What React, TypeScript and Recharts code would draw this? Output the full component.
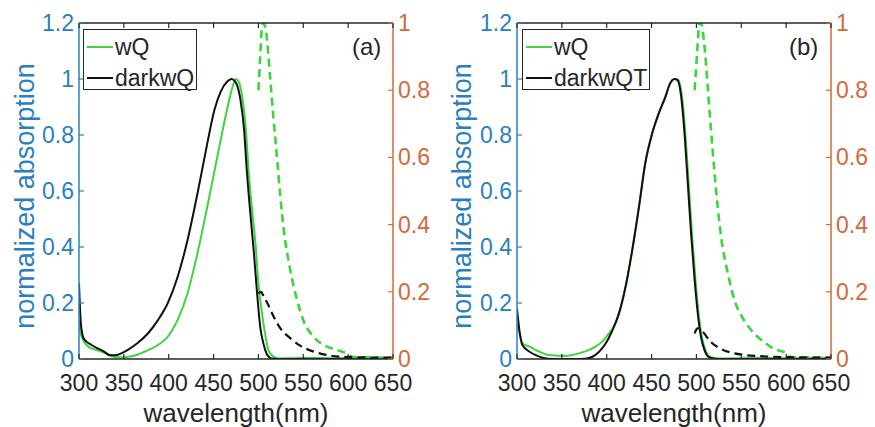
import React from 'react';
import { LineChart, Line, XAxis, YAxis } from 'recharts';

const FONT = '"Liberation Sans", Arial, Helvetica, sans-serif';
const BLUE = '#2a80bf';
const ORANGE = '#d4693a';
const GREEN = '#3ed43e';
const BLACK = '#111111';
const AXIS = '#262626';

// axis ticks
const wavelengthTicks = [300, 350, 400, 450, 500, 550, 600, 650];
const absTicks = [0, 0.2, 0.4, 0.6, 0.8, 1, 1.2];
const emTicks = [0, 0.2, 0.4, 0.6, 0.8, 1];

// panel (a) - absorption (left axis)
const aWqX = [300, 302, 305, 310, 320, 330, 336, 345, 355, 365, 373, 388, 399, 410, 421, 432, 443, 454, 465, 472, 475, 478, 482, 486, 489, 493, 497, 500, 504, 508, 511, 517, 523, 540, 560, 580, 600, 620, 650];
const aWqY = [0.14, 0.09, 0.065, 0.045, 0.032, 0.02, 0.01, 0.006, 0.008, 0.015, 0.026, 0.05, 0.08, 0.14, 0.235, 0.377, 0.544, 0.72, 0.89, 0.98, 1.0, 0.99, 0.935, 0.82, 0.675, 0.53, 0.4, 0.27, 0.163, 0.08, 0.032, 0.008, 0.002, 0.003, 0.004, 0.003, 0.004, 0.003, 0.004];
const aDarkX = [300, 302, 305, 310, 314, 321, 328, 334, 340, 347, 354, 365, 377, 388, 399, 410, 421, 432, 443, 451, 458, 465, 470, 473, 476, 480, 484, 487, 491, 495, 498.5, 502, 506, 510, 515, 530, 650];
const aDarkY = [0.27, 0.13, 0.075, 0.058, 0.05, 0.038, 0.026, 0.014, 0.013, 0.02, 0.032, 0.056, 0.092, 0.139, 0.2, 0.294, 0.425, 0.59, 0.77, 0.89, 0.955, 0.99, 1.0, 0.995, 0.98, 0.925, 0.82, 0.675, 0.52, 0.377, 0.235, 0.115, 0.05, 0.014, 0.002, 0, 0];

// panel (a) - emission (right axis)
const aWqEmX = [500, 502, 504, 506, 509.6, 513, 517, 521, 524.5, 528, 535.5, 543, 550, 561.5, 572.6, 584, 598, 605, 620, 650];
const aWqEmY = [0.8, 0.9, 0.99, 1.0, 0.95, 0.84, 0.71, 0.59, 0.48, 0.39, 0.265, 0.176, 0.116, 0.066, 0.042, 0.03, 0.017, 0.006, 0.005, 0.004];
const aDarkEmX = [500, 503, 506, 510, 517, 524.5, 535.5, 547, 561.5, 576, 591, 610, 650];
const aDarkEmY = [0.195, 0.2, 0.185, 0.166, 0.126, 0.091, 0.062, 0.039, 0.022, 0.012, 0.007, 0.005, 0.004];

// panel (b) - absorption (left axis)
const bWqX = [300, 303, 306, 314, 325, 336, 354, 369, 384, 395, 402.6, 406, 413.7, 421, 428.5, 436, 443, 450.7, 458, 465.5, 470, 476, 480, 484, 488, 491.5, 495, 499, 502.5, 506, 510, 516, 525, 560, 600, 650];
const bWqY = [0.13, 0.09, 0.056, 0.044, 0.026, 0.014, 0.011, 0.02, 0.038, 0.062, 0.092, 0.105, 0.165, 0.258, 0.39, 0.544, 0.7, 0.806, 0.877, 0.937, 0.98, 1.0, 0.995, 0.935, 0.79, 0.62, 0.45, 0.28, 0.16, 0.08, 0.032, 0.006, 0.002, 0.004, 0.003, 0.004];
const bDarkX = [300, 302.6, 306, 314, 321, 328.5, 335, 350, 365, 378, 384, 391.5, 399, 406, 413.7, 421, 428.5, 436, 443, 450.7, 458, 465.5, 470, 475.6, 479, 483, 487, 490.4, 494, 498, 501.5, 505, 509, 514.5, 525, 650];
const bDarkY = [0.18, 0.104, 0.05, 0.026, 0.014, 0.005, 0.001, 0, 0, 0.002, 0.008, 0.026, 0.056, 0.1, 0.163, 0.258, 0.39, 0.544, 0.7, 0.806, 0.877, 0.937, 0.98, 1.0, 0.996, 0.937, 0.794, 0.627, 0.45, 0.282, 0.163, 0.08, 0.032, 0.006, 0, 0];

// panel (b) - emission (right axis)
const bWqEmX = [498, 501, 503.4, 505, 509, 512.6, 516.3, 520, 523.8, 527.5, 535, 542.3, 553, 564.5, 575.6, 586.7, 600, 605, 620, 650];
const bWqEmY = [0.8, 0.92, 1.0, 1.0, 0.93, 0.81, 0.68, 0.56, 0.45, 0.364, 0.255, 0.176, 0.116, 0.076, 0.05, 0.03, 0.017, 0.006, 0.005, 0.004];
const bDarkEmX = [498, 500, 502, 507, 516.3, 527.5, 538.6, 553.4, 568, 583, 610, 650];
const bDarkEmY = [0.076, 0.088, 0.092, 0.081, 0.05, 0.03, 0.019, 0.012, 0.009, 0.007, 0.005, 0.004];

const legendA = ['wQ', 'darkwQ'];
const legendB = ['wQ', 'darkwQT'];

const pts = (xs: number[], ys: number[]) => xs.map((x, i) => ({ x, y: ys[i] }));

function BottomTick({ x, y, payload }: any) {
  return (
    <g>
      <line x1={x} y1={y} x2={x} y2={y - 5} stroke={AXIS} strokeWidth={1.2} />
      <text x={x} y={y + 32} textAnchor="middle" fontSize={23} fill={AXIS} fontFamily={FONT}>
        {payload.value}
      </text>
    </g>
  );
}

function TopTick({ x, y }: any) {
  return <line x1={x} y1={y} x2={x} y2={y + 5} stroke={AXIS} strokeWidth={1.2} />;
}

function LeftTick({ x, y, payload }: any) {
  return (
    <g>
      <line x1={x} y1={y} x2={x + 5} y2={y} stroke={BLUE} strokeWidth={1.2} />
      <text x={x - 5} y={y + 8} textAnchor="end" fontSize={23} fill={BLUE} fontFamily={FONT}>
        {payload.value}
      </text>
    </g>
  );
}

function RightTick({ x, y, payload }: any) {
  return (
    <g>
      <line x1={x} y1={y} x2={x - 5} y2={y} stroke={ORANGE} strokeWidth={1.2} />
      <text x={x + 5} y={y + 8} textAnchor="start" fontSize={23} fill={ORANGE} fontFamily={FONT}>
        {payload.value}
      </text>
    </g>
  );
}

const yTitle = (props: any) => {
  const vb = props.viewBox;
  const cx = vb.x + 25;
  const cy = vb.y + vb.height / 2 + 5;
  return (
    <text x={cx} y={cy} transform={`rotate(-90, ${cx}, ${cy})`} textAnchor="middle" dominantBaseline="central"
      fontSize={27} fill={BLUE} fontFamily={FONT}>
      normalized absorption
    </text>
  );
};

const xTitle = (props: any) => {
  const vb = props.viewBox;
  return (
    <text x={vb.x + vb.width / 2} y={vb.y + 63} textAnchor="middle" fontSize={26} fill={AXIS} fontFamily={FONT}>
      wavelength(nm)
    </text>
  );
};

function LegendBox({ names, left, width }: { names: string[]; left: number; width: number }) {
  const colors = [GREEN, BLACK];
  return (
    <div style={{
      position: 'absolute', left, top: 29, width, height: 61, border: `1.3px solid ${AXIS}`,
      background: '#fff', boxSizing: 'border-box', fontFamily: FONT, fontSize: 23, color: AXIS,
    }}>
      {names.map((n, i) => (
        <div key={n} style={{ position: 'absolute', left: 3, top: 3 + i * 31, height: 28, display: 'flex', alignItems: 'center', whiteSpace: 'nowrap' }}>
          <span style={{ display: 'inline-block', width: 26, borderTop: `2px solid ${colors[i]}`, marginRight: 2 }} />
          <span>{n}</span>
        </div>
      ))}
    </div>
  );
}

interface PanelProps {
  width: number;
  leftWidth: number;
  tag: string;
  names: string[];
  legendLeft: number;
  legendWidth: number;
  wq: { x: number; y: number }[];
  dark: { x: number; y: number }[];
  wqEm: { x: number; y: number }[];
  darkEm: { x: number; y: number }[];
}

function Panel({ width, leftWidth, tag, names, legendLeft, legendWidth, wq, dark, wqEm, darkEm }: PanelProps) {
  return (
    <div style={{ position: 'relative', width, height: 427 }}>
      <LineChart width={width} height={427} margin={{ top: 21, right: 0, bottom: 0, left: 0 }}>
        <XAxis xAxisId="b" type="number" dataKey="x" domain={[300, 650]} ticks={wavelengthTicks} interval={0}
          allowDataOverflow height={68} tickSize={0} tickMargin={0} tick={<BottomTick />}
          axisLine={{ stroke: AXIS, strokeWidth: 1.5 }} label={xTitle} />
        <XAxis xAxisId="t" orientation="top" type="number" dataKey="x" domain={[300, 650]} ticks={wavelengthTicks}
          interval={0} allowDataOverflow height={2} tickSize={0} tickMargin={0} tick={<TopTick />}
          axisLine={{ stroke: AXIS, strokeWidth: 1.5 }} />
        <YAxis yAxisId="l" type="number" domain={[0, 1.2]} ticks={absTicks} interval={0} allowDataOverflow
          width={leftWidth} tickSize={0} tickMargin={0} tick={<LeftTick />}
          axisLine={{ stroke: BLUE, strokeWidth: 1.5 }} label={yTitle} />
        <YAxis yAxisId="r" orientation="right" type="number" domain={[0, 1]} ticks={emTicks} interval={0}
          allowDataOverflow width={44} tickSize={0} tickMargin={0} tick={<RightTick />}
          axisLine={{ stroke: ORANGE, strokeWidth: 1.5 }} />
        <Line xAxisId="b" yAxisId="l" data={wq} dataKey="y" type="monotone" stroke={GREEN} strokeWidth={2}
          dot={false} isAnimationActive={false} />
        <Line xAxisId="b" yAxisId="l" data={dark} dataKey="y" type="monotone" stroke={BLACK} strokeWidth={2}
          dot={false} isAnimationActive={false} />
        <Line xAxisId="b" yAxisId="r" data={wqEm} dataKey="y" type="monotone" stroke={GREEN} strokeWidth={2.6}
          strokeDasharray="8 5" dot={false} isAnimationActive={false} />
        <Line xAxisId="b" yAxisId="r" data={darkEm} dataKey="y" type="monotone" stroke={BLACK} strokeWidth={2.2}
          strokeDasharray="8 5" dot={false} isAnimationActive={false} />
      </LineChart>
      <LegendBox names={names} left={legendLeft} width={legendWidth} />
      <div style={{ position: 'absolute', left: 352, top: 32, fontFamily: FONT, fontSize: 24, lineHeight: '30px', color: AXIS }}>
        {tag}
      </div>
    </div>
  );
}

export default function App() {
  return (
    <div style={{ position: 'absolute', left: 0, top: 0, width: 875, height: 427, background: '#fff', display: 'flex' }}>
      <Panel width={437} leftWidth={79} tag="(a)" names={legendA} legendLeft={83} legendWidth={114}
        wq={pts(aWqX, aWqY)} dark={pts(aDarkX, aDarkY)} wqEm={pts(aWqEmX, aWqEmY)} darkEm={pts(aDarkEmX, aDarkEmY)} />
      <Panel width={438} leftWidth={80} tag="(b)" names={legendB} legendLeft={85} legendWidth={128}
        wq={pts(bWqX, bWqY)} dark={pts(bDarkX, bDarkY)} wqEm={pts(bWqEmX, bWqEmY)} darkEm={pts(bDarkEmX, bDarkEmY)} />
    </div>
  );
}
